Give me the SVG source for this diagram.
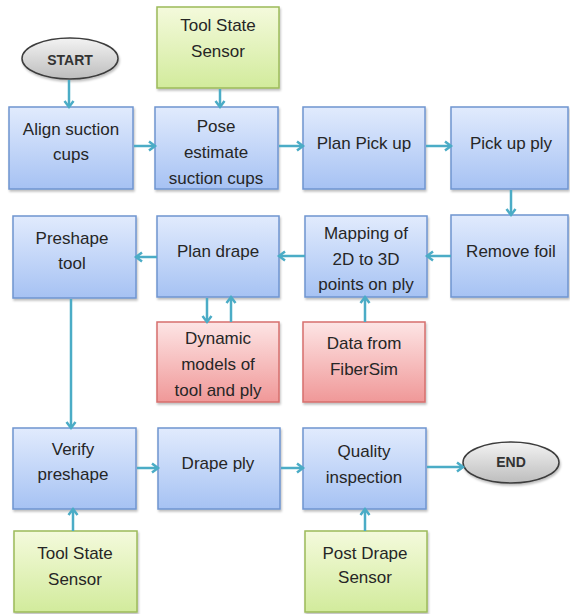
<svg xmlns="http://www.w3.org/2000/svg" width="570" height="614" viewBox="0 0 570 614">
<defs>
<linearGradient id="gBlue" x1="0" y1="0" x2="0" y2="1"><stop offset="0" stop-color="#e1ebfd"/><stop offset="1" stop-color="#a6c2f3"/></linearGradient>
<linearGradient id="gGreen" x1="0" y1="0" x2="0" y2="1"><stop offset="0" stop-color="#f4fadc"/><stop offset="1" stop-color="#d2eb9c"/></linearGradient>
<linearGradient id="gRed" x1="0" y1="0" x2="0" y2="1"><stop offset="0" stop-color="#fde5e5"/><stop offset="1" stop-color="#f09898"/></linearGradient>
<linearGradient id="gGray" x1="0" y1="0" x2="0" y2="1"><stop offset="0" stop-color="#f3f3f3"/><stop offset="1" stop-color="#bdbdbd"/></linearGradient>
<filter id="sh" x="-10%" y="-10%" width="130%" height="130%"><feDropShadow dx="1" dy="2" stdDeviation="1.2" flood-color="#000" flood-opacity="0.25"/></filter>
<marker id="arr" markerUnits="userSpaceOnUse" markerWidth="12" markerHeight="12" refX="8" refY="6" orient="auto"><path d="M2,1.5 L8,6 L2,10.5" fill="none" stroke="#4bacc6" stroke-width="2.5"/></marker>
</defs>
<style>
.blue{fill:url(#gBlue);stroke:#6f95d0;stroke-width:1.5;filter:url(#sh)}
.green{fill:url(#gGreen);stroke:#9cbb5a;stroke-width:1.5;filter:url(#sh)}
.red{fill:url(#gRed);stroke:#d66f6d;stroke-width:1.5;filter:url(#sh)}
.oval{fill:url(#gGray);stroke:#3c3c3c;stroke-width:1.5;filter:url(#sh)}
text{font-family:"Liberation Sans",Arial,sans-serif;font-size:17px;fill:#262626;text-anchor:middle}
.sm{font-size:14px;font-weight:bold;fill:#333}
.c{fill:none;stroke:#4bacc6;stroke-width:2.5;marker-end:url(#arr)}
</style>
<rect width="570" height="614" fill="#fff"/>

<g id="start"><ellipse class="oval" cx="70" cy="58.5" rx="48" ry="20.5"/><text class="sm" x="70" y="65">START</text></g>
<g id="tss1"><rect class="green" x="157" y="7" width="122" height="81"/><text x="218" y="31">Tool State</text><text x="218" y="57">Sensor</text></g>
<g id="align"><rect class="blue" x="9" y="107" width="124" height="82"/><text x="71" y="135">Align suction</text><text x="71" y="160">cups</text></g>
<g id="pose"><rect class="blue" x="155" y="107" width="123" height="82"/><text x="216" y="132">Pose</text><text x="216" y="158">estimate</text><text x="216" y="184">suction cups</text></g>
<g id="planpick"><rect class="blue" x="303" y="107" width="122" height="82"/><text x="364" y="149">Plan Pick up</text></g>
<g id="pickup"><rect class="blue" x="451" y="107" width="117" height="82"/><text x="511" y="149">Pick up ply</text></g>
<g id="remove"><rect class="blue" x="451" y="215" width="117" height="82"/><text x="511" y="257">Remove foil</text></g>
<g id="mapping"><rect class="blue" x="305" y="216" width="122" height="81"/><text x="366" y="239">Mapping of</text><text x="366" y="265">2D to 3D</text><text x="366" y="290">points on ply</text></g>
<g id="plandrape"><rect class="blue" x="157" y="216" width="122" height="81"/><text x="218" y="257">Plan drape</text></g>
<g id="preshape"><rect class="blue" x="13" y="216" width="123" height="82"/><text x="72" y="244">Preshape</text><text x="72" y="269">tool</text></g>
<g id="dynamic"><rect class="red" x="157" y="322" width="122" height="80"/><text x="218" y="344">Dynamic</text><text x="218" y="370">models of</text><text x="218" y="396">tool and ply</text></g>
<g id="fibersim"><rect class="red" x="303" y="322" width="122" height="80"/><text x="364" y="349">Data from</text><text x="364" y="375">FiberSim</text></g>
<g id="verify"><rect class="blue" x="13" y="428" width="123" height="81"/><text x="73" y="455">Verify</text><text x="73" y="480">preshape</text></g>
<g id="drape"><rect class="blue" x="158" y="428" width="122" height="81"/><text x="218" y="469">Drape ply</text></g>
<g id="quality"><rect class="blue" x="303" y="428" width="123" height="81"/><text x="364" y="457">Quality</text><text x="364" y="483">inspection</text></g>
<g id="end"><ellipse class="oval" cx="511" cy="462.5" rx="48" ry="20.5"/><text class="sm" x="511" y="467">END</text></g>
<g id="tss2"><rect class="green" x="14" y="531" width="123" height="81"/><text x="75" y="559">Tool State</text><text x="75" y="585">Sensor</text></g>
<g id="postdrape"><rect class="green" x="305" y="531" width="122" height="81"/><text x="365" y="559">Post Drape</text><text x="365" y="583">Sensor</text></g>

<g id="connectors">
<line class="c" x1="69" y1="80" x2="69" y2="107"/>
<line class="c" x1="220" y1="89" x2="220" y2="107"/>
<line class="c" x1="134" y1="146" x2="155" y2="146"/>
<line class="c" x1="279" y1="146" x2="303" y2="146"/>
<line class="c" x1="426" y1="146" x2="451" y2="146"/>
<line class="c" x1="511" y1="190" x2="511" y2="215"/>
<line class="c" x1="451" y1="256" x2="427" y2="256"/>
<line class="c" x1="305" y1="256" x2="279" y2="256"/>
<line class="c" x1="157" y1="257" x2="136" y2="257"/>
<line class="c" x1="207" y1="298" x2="207" y2="322"/>
<line class="c" x1="231" y1="322" x2="231" y2="297"/>
<line class="c" x1="365" y1="322" x2="365" y2="297"/>
<line class="c" x1="71" y1="299" x2="71" y2="428"/>
<line class="c" x1="137" y1="468" x2="158" y2="468"/>
<line class="c" x1="281" y1="468" x2="303" y2="468"/>
<line class="c" x1="427" y1="467" x2="463" y2="467"/>
<line class="c" x1="73" y1="531" x2="73" y2="509"/>
<line class="c" x1="365" y1="531" x2="365" y2="509"/>
</g>
</svg>
